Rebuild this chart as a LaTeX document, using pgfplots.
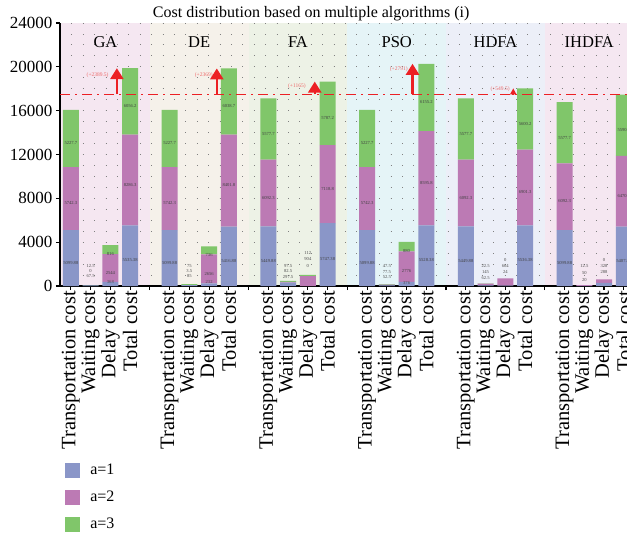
\documentclass[border=0pt]{standalone}
\usepackage{fontspec}
\setmainfont{Liberation Serif}
\usepackage{pgfplots}
\usepackage{pgfplotstable}
\pgfplotsset{compat=1.18}
\usetikzlibrary{arrows.meta}
\definecolor{cA}{RGB}{138,150,200}
\definecolor{cB}{RGB}{188,122,180}
\definecolor{cC}{RGB}{128,198,106}
\definecolor{bGA}{RGB}{245,231,241}
\definecolor{bDE}{RGB}{245,241,234}
\definecolor{bFA}{RGB}{237,242,230}
\definecolor{bPSO}{RGB}{229,244,247}
\definecolor{bHDFA}{RGB}{236,239,248}
\definecolor{bIHDFA}{RGB}{245,231,241}
\definecolor{redl}{RGB}{236,32,36}
\definecolor{redt}{RGB}{238,105,105}

\tikzset{
  lbl/.style={font=\fontsize{4.6}{5}\selectfont, text=black!70, inner sep=0pt},
  rlbl/.style={font=\fontsize{5.5}{6}\selectfont, text=redt, anchor=east, inner sep=0pt},
  grp/.style={font=\fontsize{16.5}{18}\selectfont}
}

\pgfplotstableread{
x b p g lb lp lg
0 5099.88 5742.3 5227.7 5099.88 5742.3 5227.7
1 67.5 0 12.5 {} {} {}
2 368 2544 816 {} 2544 816
3 5535.38 8286.3 6056.2 5535.38 8286.3 6056.2
5 5099.88 5742.3 5227.7 5099.88 5742.3 5227.7
6 85 3.5 75 {} {} {}
7 232 2656 736 {} 2656 736
8 5416.88 8401.8 6038.7 5416.88 8401.8 6038.7
10 5449.88 6092.3 5577.7 5449.88 6092.3 5577.7
11 297.5 82.5 97.5 {} {} {}
12 0 904 112 {} {} {}
13 5747.38 7118.8 5787.2 5747.38 7118.8 5787.2
15 5099.88 5742.3 5227.7 5099.88 5742.3 5227.7
16 52.5 77.5 47.5 {} {} {}
17 376 2776 880 {} 2776 880
18 5528.38 8595.8 6155.2 5528.38 8595.8 6155.2
20 5449.88 6092.3 5577.7 5449.88 6092.3 5577.7
21 62.5 145 22.5 {} {} {}
22 24 664 0 {} {} {}
23 5536.38 6901.3 5600.2 5536.38 6901.3 5600.2
25 5099.88 6092.3 5577.7 5099.88 6092.3 5577.7
26 20 50 12.5 {} {} {}
27 288 328 0 {} {} {}
28 5407.88 6470.3 5590.2 5407.88 6470.3 5590.2
}\costdata

\pgfplotsset{base/.style={scale only axis, width=567pt, height=263pt,
  xmin=-0.55, xmax=28.16, ymin=0, ymax=24000, at={(0pt,0pt)}, anchor=south west}}

\begin{document}
\begin{tikzpicture}
\useasboundingbox (-60pt,-253pt) rectangle (567pt,286pt);
% background bands
\begin{axis}[base, hide axis]
\addplot[fill=bGA, draw=none] coordinates {(-0.55,24000) (4,24000)} \closedcycle;
\addplot[fill=bDE, draw=none] coordinates {(4,24000) (9,24000)} \closedcycle;
\addplot[fill=bFA, draw=none] coordinates {(9,24000) (14,24000)} \closedcycle;
\addplot[fill=bPSO, draw=none] coordinates {(14,24000) (19,24000)} \closedcycle;
\addplot[fill=bHDFA, draw=none] coordinates {(19,24000) (24,24000)} \closedcycle;
\addplot[fill=bIHDFA, draw=none] coordinates {(24,24000) (29,24000)} \closedcycle;
\end{axis}
% bars
\begin{axis}[base,
  ybar stacked, bar width=16pt,
  axis x line*=bottom, axis y line*=left,
  axis line style={black, line width=1.5pt},
  xtick={0,...,28},
  xticklabels={Transportation cost,Waiting cost,Delay cost,Total cost,{},
               Transportation cost,Waiting cost,Delay cost,Total cost,{},
               Transportation cost,Waiting cost,Delay cost,Total cost,{},
               Transportation cost,Waiting cost,Delay cost,Total cost,{},
               Transportation cost,Waiting cost,Delay cost,Total cost,{},
               Transportation cost,Waiting cost,Delay cost,Total cost},
  x tick label style={rotate=90, anchor=east, inner sep=1pt, font=\fontsize{20.5}{21}\selectfont},
  ytick={0,4000,...,24000},
  minor ytick={1000,2000,...,24000},
  yticklabel style={font=\fontsize{17}{18}\selectfont},
  /pgf/number format/assume math mode=true,
  /pgf/number format/1000 sep={},
  scaled y ticks=false,
  tick align=outside, major tick length=4pt, minor tick length=0pt,
  tick style={black, line width=1.2pt},
  ymajorgrids, yminorgrids,
  grid style={draw=gray, line width=0.9pt, dash pattern=on 0.9pt off 10.5pt},
  minor grid style={draw=gray, line width=0.9pt, dash pattern=on 0.9pt off 10.5pt},
  title={Cost distribution based on multiple algorithms (i)},
  title style={font=\fontsize{16}{18}\selectfont, at={(0.443,1)}, anchor=base, yshift=0pt},
  legend image code/.code={\fill[#1] (0pt,-7.5pt) rectangle (15pt,7.5pt);},
  legend style={at={(axis description cs:0.009,-0.673)}, anchor=north west, draw=none, fill=none,
     inner sep=0pt, row sep=12pt, column sep=10pt, font=\fontsize{16}{18}\selectfont,
     nodes={inner sep=0pt, text height=11pt, text depth=4pt}},
  legend cell align=left,
  nodes near coords, point meta=explicit symbolic,
  nodes near coords style={anchor=north, yshift=-2pt, inner sep=1pt, font=\fontsize{4.6}{5}\selectfont, text=black!75},
]
\addplot[fill=cA, draw=none] table[x=x, y=b, meta=lb]{\costdata};
\addplot[fill=cB, draw=none] table[x=x, y=p, meta=lp]{\costdata};
\addplot[fill=cC, draw=none] table[x=x, y=g, meta=lg]{\costdata};
\legend{a=1,a=2,a=3}
\end{axis}
% overlay: reference line, arrows, labels
\begin{axis}[base, hide axis]
\addplot[redl, line width=1.5pt, dash pattern=on 10pt off 5pt on 2pt off 5pt] coordinates {(-0.55,17488.38) (28.16,17488.38)};
\addplot[redl, line width=2.5pt, -{Triangle[width=13pt,length=11pt]}] coordinates {(2.33,17488.38) (2.33,19877.88)};
\addplot[redl, line width=2.5pt, -{Triangle[width=13pt,length=11pt]}] coordinates {(7.39,17488.38) (7.39,19857.38)};
\addplot[redl, line width=2.5pt, -{Triangle[width=13pt,length=11pt]}] coordinates {(12.35,17488.38) (12.35,18653.38)};
\addplot[redl, line width=2.5pt, -{Triangle[width=13pt,length=11pt]}] coordinates {(17.3,17488.38) (17.3,20279.38)};
\addplot[redl, line width=1.5pt, -{Triangle[width=6pt,length=6pt]}] coordinates {(22.4,17488.38) (22.4,18037.88)};
\node[rlbl] at (axis cs:1.92,19255) {(+2389.5)};
\node[rlbl] at (axis cs:7.19,19255) {(+2369)};
\node[rlbl] at (axis cs:11.9,18250) {(+1165)};
\node[rlbl] at (axis cs:17.06,19800) {(+2791)};
\node[rlbl] at (axis cs:22.23,17980) {(+549.5)};
% group names
\node[grp] at (axis cs:1.75,22300) {GA};
\node[grp] at (axis cs:6.5,22300) {DE};
\node[grp] at (axis cs:11.5,22300) {FA};
\node[grp] at (axis cs:16.5,22300) {PSO};
\node[grp] at (axis cs:21.5,22300) {HDFA};
\node[grp] at (axis cs:26.25,22300) {IHDFA};
% waiting cost labels (a=3, a=2, a=1 from top)
\node[lbl] at (axis cs:1,1800) {12.5};
\node[lbl] at (axis cs:1,1330) {0};
\node[lbl] at (axis cs:1,870) {67.5};
\node[lbl] at (axis cs:6,1800) {75};
\node[lbl] at (axis cs:6,1330) {3.5};
\node[lbl] at (axis cs:6,870) {85};
\node[lbl] at (axis cs:11,1800) {97.5};
\node[lbl] at (axis cs:11,1330) {82.5};
\node[lbl] at (axis cs:11,820) {297.5};
\node[lbl] at (axis cs:16,1830) {47.5};
\node[lbl] at (axis cs:16,1300) {77.5};
\node[lbl] at (axis cs:16,790) {52.5};
\node[lbl] at (axis cs:21,1830) {22.5};
\node[lbl] at (axis cs:21,1300) {145};
\node[lbl] at (axis cs:21,760) {62.5};
\node[lbl] at (axis cs:26,1780) {12.5};
\node[lbl] at (axis cs:26,1230) {50};
\node[lbl] at (axis cs:26,550) {20};
% delay cost labels
\node[lbl] at (axis cs:2,390) {368};
\node[lbl] at (axis cs:7,390) {232};
\node[lbl] at (axis cs:17,250) {376};
\node[lbl] at (axis cs:12,3040) {112};
\node[lbl] at (axis cs:12,2440) {904};
\node[lbl] at (axis cs:12,1830) {0};
\node[lbl] at (axis cs:22,2370) {0};
\node[lbl] at (axis cs:22,1830) {664};
\node[lbl] at (axis cs:22,1280) {24};
\node[lbl] at (axis cs:27,2370) {0};
\node[lbl] at (axis cs:27,1830) {328};
\node[lbl] at (axis cs:27,1280) {288};
\end{axis}
\end{tikzpicture}
\end{document}
